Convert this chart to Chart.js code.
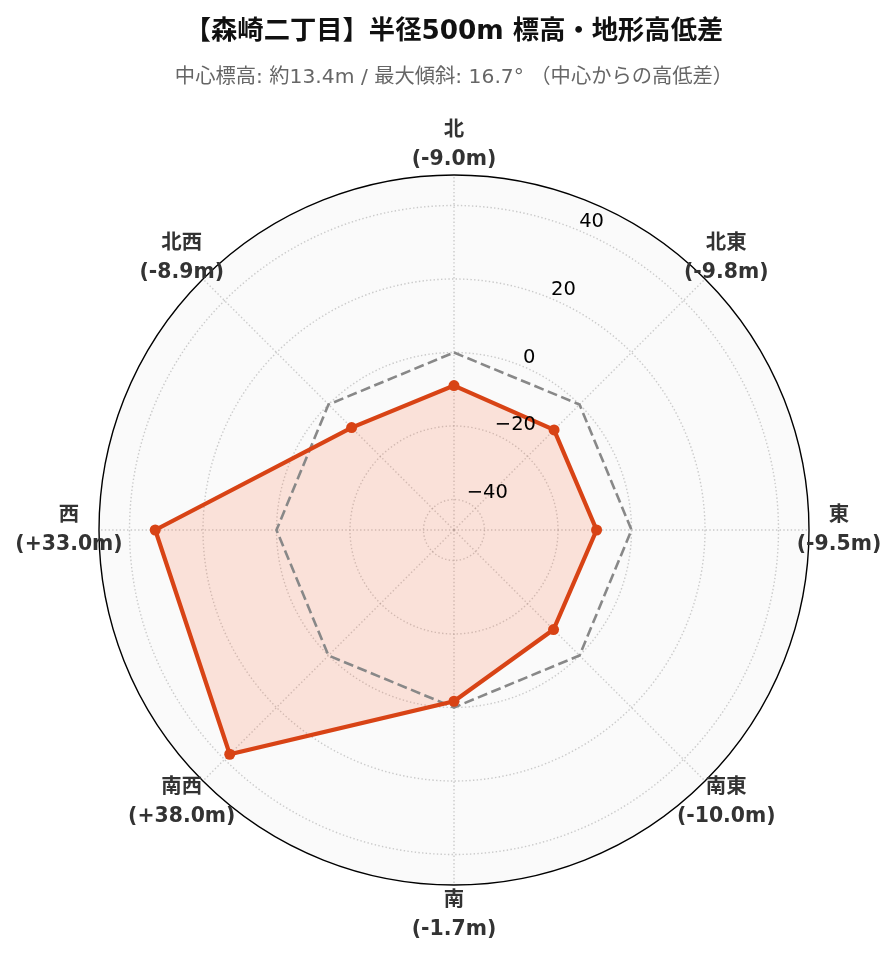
<!DOCTYPE html>
<html>
<head>
    <title>森崎二丁目 標高</title>
    <script src="https://cdn.jsdelivr.net/npm/chart.js"></script>
    <style>
        body { margin: 0; background: #fff; }
    </style>
</head>
<body>
    <canvas id="chart" width="896" height="962"></canvas>
    <script>
        // data
        const directions = ['北', '北東', '東', '南東', '南', '南西', '西', '北西'];
        const elevDiff = [-9.0, -9.8, -9.5, -10.0, -1.7, 38.0, 33.0, -8.9];
        const zeroLine = [0, 0, 0, 0, 0, 0, 0, 0];
        const tickValues = [-40, -20, 0, 20, 40];
        const rMin = -48.3, rMax = 48.3;

        const FONT = '"DejaVu Sans", "Noto Sans CJK JP", sans-serif';

        const fmtDiff = v => '(' + (v > 0 ? '+' : '') + v.toFixed(1) + 'm)';

        // tick labels at 22.5deg + two-line direction labels + outer ring
        const polarDecor = {
            id: 'polarDecor',
            beforeDatasetsDraw(chart) {
                const s = chart.scales.r;
                const ctx = chart.ctx;
                ctx.save();
                ctx.strokeStyle = '#000';
                ctx.lineWidth = 1.4;
                ctx.beginPath();
                ctx.arc(s.xCenter, s.yCenter, s.drawingArea, 0, Math.PI * 2);
                ctx.stroke();
                ctx.restore();
            },
            afterDatasetsDraw(chart) {
                const s = chart.scales.r;
                const ctx = chart.ctx;
                ctx.save();
                ctx.font = '19.5px ' + FONT;
                ctx.fillStyle = '#000';
                ctx.textAlign = 'left';
                ctx.textBaseline = 'alphabetic';
                const a = Math.PI / 8;
                tickValues.forEach(v => {
                    const r = s.getDistanceFromCenterForValue(v);
                    const x = s.xCenter + r * Math.sin(a);
                    const y = s.yCenter - r * Math.cos(a);
                    ctx.fillText(String(v).replace('-', '\u2212'), x + 1, y - 3.5);
                });

                ctx.font = 'bold 20.4px ' + FONT;
                ctx.fillStyle = '#333';
                ctx.textAlign = 'center';
                ctx.textBaseline = 'middle';
                directions.forEach((d, i) => {
                    const p = s.getPointPosition(i, 385);
                    ctx.fillText(d, p.x, p.y - 14.5);
                    ctx.fillText(fmtDiff(elevDiff[i]), p.x, p.y + 14.5);
                });
                ctx.restore();
            }
        };

        new Chart(document.getElementById('chart'), {
            type: 'radar',
            data: {
                labels: directions,
                datasets: [{
                    label: '高低差',
                    data: elevDiff,
                    borderColor: '#D84315',
                    backgroundColor: 'rgba(255, 87, 34, 0.15)',
                    borderWidth: 4.2,
                    fill: 'start',
                    pointRadius: 5.5,
                    pointBackgroundColor: '#D84315',
                    pointBorderWidth: 0,
                    tension: 0
                }, {
                    label: '中心',
                    data: zeroLine,
                    borderColor: '#888888',
                    borderWidth: 2.6,
                    borderDash: [10, 4.5],
                    fill: false,
                    pointRadius: 0,
                    tension: 0
                }]
            },
            options: {
                responsive: false,
                devicePixelRatio: 1,
                animation: false,
                layout: {
                    padding: { left: 99, right: 87, top: 0, bottom: 76 }
                },
                plugins: {
                    legend: { display: false },
                    tooltip: { enabled: false },
                    filler: { drawTime: 'beforeDatasetsDraw' },
                    title: {
                        display: true,
                        text: '【森崎二丁目】半径500m 標高・地形高低差',
                        color: '#111',
                        font: { family: FONT, size: 26.3, weight: 'bold', lineHeight: 1.2 },
                        padding: { top: 16, bottom: 16.6 }
                    },
                    subtitle: {
                        display: true,
                        text: '中心標高: 約13.4m / 最大傾斜: 16.7° （中心からの高低差）',
                        color: '#666',
                        font: { family: FONT, size: 20.3, lineHeight: 1.2 },
                        padding: { top: 1, bottom: 86.3 }
                    }
                },
                scales: {
                    r: {
                        min: rMin,
                        max: rMax,
                        backgroundColor: '#fafafa',
                        afterBuildTicks: axis => {
                            axis.ticks = tickValues.map(v => ({ value: v }));
                        },
                        ticks: { display: false },
                        pointLabels: { display: false },
                        grid: {
                            circular: true,
                            color: 'rgba(170, 170, 170, 0.6)',
                            lineWidth: 1.4
                        },
                        border: { dash: [1.4, 2.3] },
                        angleLines: {
                            color: 'rgba(170, 170, 170, 0.6)',
                            lineWidth: 1.4,
                            borderDash: [1.4, 2.3]
                        }
                    }
                }
            },
            plugins: [polarDecor]
        });
    </script>
</body>
</html>
